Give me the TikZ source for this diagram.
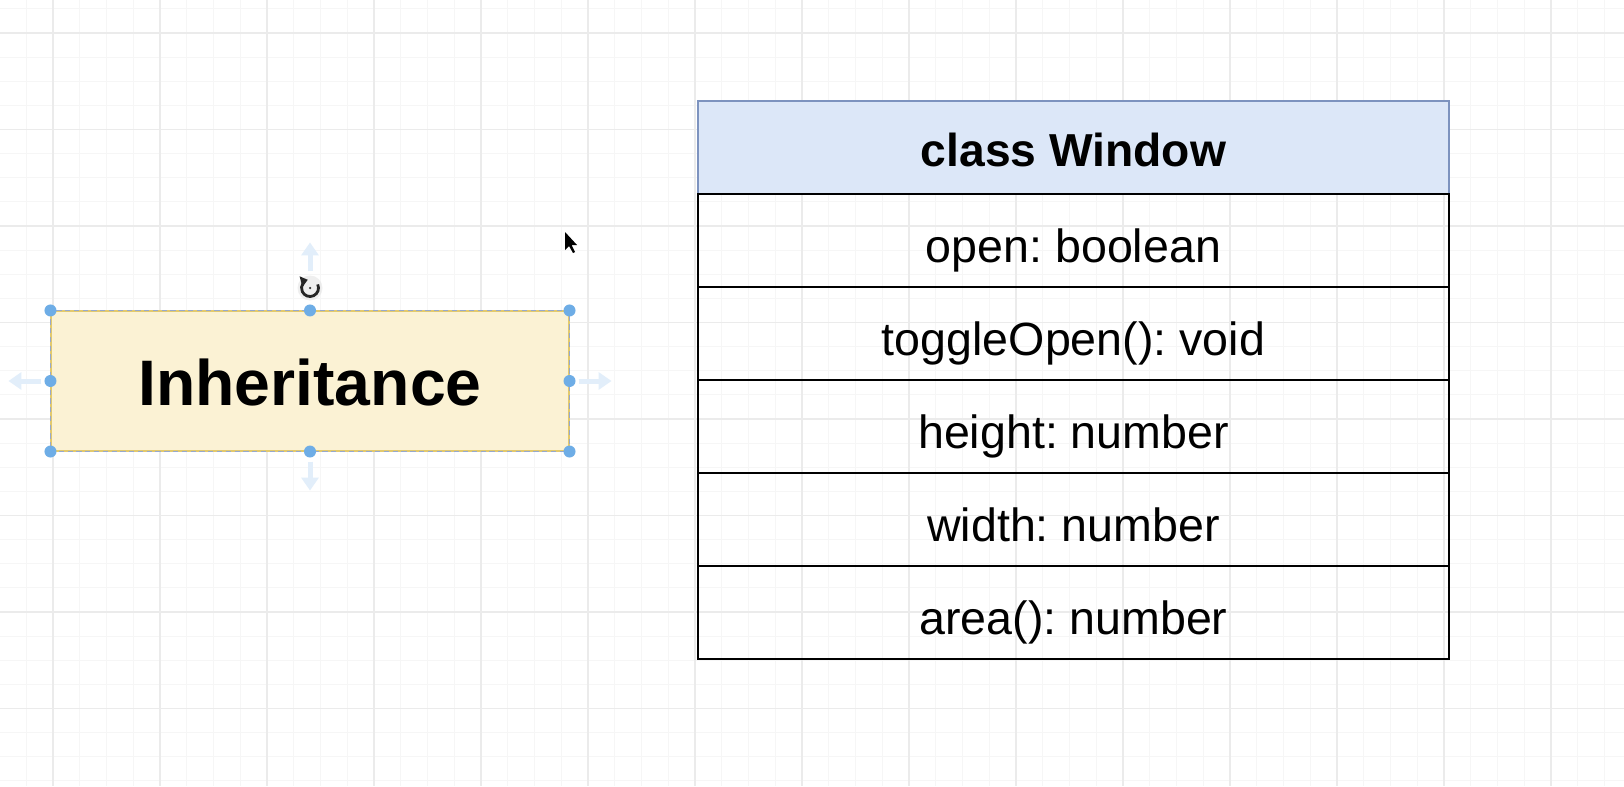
\documentclass[tikz,border=0pt]{standalone}
\usepackage{fontspec}
\setmainfont{Liberation Sans}
\usetikzlibrary{
  arrows.meta,
  positioning,
}
\definecolor{gridminor}{HTML}{F6F6F6}
\definecolor{gridmajor}{HTML}{EBEBEB}
\definecolor{notefill}{HTML}{FBF2D4}
\definecolor{noteline}{HTML}{E2C96E}
\definecolor{headfill}{HTML}{DCE7F8}
\definecolor{headline}{HTML}{7D93BF}
\definecolor{handle}{HTML}{6EADE6}
\definecolor{hint}{HTML}{E2EEFA}
\tikzset{
  >=Straight Barb[],
  handle/.style={circle, fill=handle, inner sep=0pt, minimum size=0.24cm},
  hintarrow/.style={hint, line width=0.1cm, -{Triangle[width=0.34cm, length=0.26cm]}},
  member/.style={draw=black, line width=1.1pt, outer sep=0pt, inner sep=0pt,
    minimum width=15.02cm, minimum height=1.86cm, text height=0.86cm, text depth=0pt,
    font=\fontsize{26.5}{30}\selectfont},
}
\frenchspacing

\begin{document}
\begin{tikzpicture}
      \useasboundingbox (0, 0) rectangle (32.48, 15.72);
      \fill [white] (0, 0) rectangle (32.48, 15.72);
      \foreach \i in {-1, ..., 58}
      {
        \pgfmathsetmacro{\gx}{1.06 + 0.535 * \i}
        \draw [gridminor, line width=0.5pt] (\gx, 0) -- (\gx, 15.72);
      }
      \foreach \i in {-2, ..., 32}
      {
        \pgfmathsetmacro{\gy}{15.06 - 0.4825 * \i}
        \draw [gridminor, line width=0.5pt] (0, \gy) -- (32.48, \gy);
      }
      \foreach \i in {0, ..., 14}
      {
        \draw [gridmajor, line width=0.6pt] (1.06 + 2.14 * \i, 0) -- (1.06 + 2.14 * \i, 15.72);
      }
      \foreach \i in {0, ..., 7}
      {
        \draw [gridmajor, line width=0.6pt] (0, 15.06 - 1.93 * \i) -- (32.48, 15.06 - 1.93 * \i);
      }

      \node [fill=notefill, draw=noteline, line width=0.6pt, minimum width=10.36cm, minimum height=2.8cm,
        text height=0.96cm, text depth=0pt,
        font=\fontsize{36.6}{40}\selectfont\bfseries] (inh) at (6.2, 8.1) {Inheritance};
      \draw [headline!80, line width=0.6pt, dash pattern=on 3pt off 2pt] (inh.north west) rectangle (inh.south east);
      \foreach \a [count=\k] in {north west, north, north east, east, south east, south, south west, west}
      {
        \node [handle] (h\k) at (inh.\a) {};
      }

      \coordinate [above=0.78cm of inh.north] (up-a);
      \coordinate [above=1.36cm of inh.north] (up-b);
      \coordinate [below=0.2cm of inh.south] (dn-a);
      \coordinate [below=0.78cm of inh.south] (dn-b);
      \coordinate [left=0.18cm of inh.west] (lf-a);
      \coordinate [left=0.84cm of inh.west] (lf-b);
      \coordinate [right=0.18cm of inh.east] (rt-a);
      \coordinate [right=0.84cm of inh.east] (rt-b);
      \draw [hintarrow] (up-a) -- (up-b);
      \draw [hintarrow] (dn-a) -- (dn-b);
      \draw [hintarrow] (lf-a) -- (lf-b);
      \draw [hintarrow] (rt-a) -- (rt-b);

      \node [circle, fill=black!12, minimum size=0.5cm, inner sep=0pt, opacity=0.5] (rot) at (6.2, 9.96) {};
      \draw [black!85, line width=1.6pt, -{Triangle[width=6pt, length=4pt]}] (rot.center) ++(25:0.17) arc (25:-255:0.17);
      \fill [black!80] (rot.center) circle (0.025);

      \node [member, fill=headfill, draw=headline, text height=0.74cm,
        font=\fontsize{26.3}{30}\selectfont\bfseries] (r0) at (21.47, 12.77) {class Window};
      \foreach \t [count=\i, remember=\i as \j (initially 0)] in {open: boolean, toggleOpen(): void, height: number, width: number, area(): number}
      {
        \node [member, below=0pt of r\j] (r\i) {\t};
      }

      \fill [black] (11.3, 11.08) -- (11.3, 10.72) -- (11.38, 10.8) -- (11.46, 10.66) -- (11.5, 10.68) -- (11.43, 10.82) -- (11.54, 10.82) -- cycle;
    \end{tikzpicture}
\end{document}
